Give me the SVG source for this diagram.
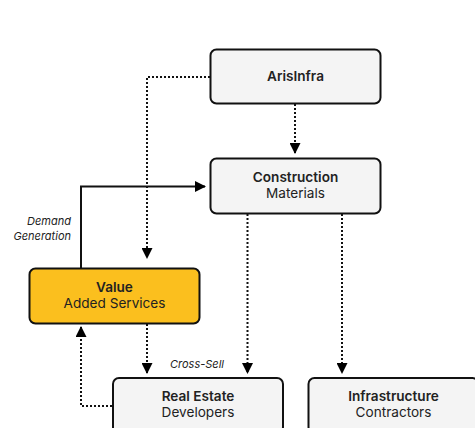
<svg xmlns="http://www.w3.org/2000/svg" width="475" height="428" viewBox="0 0 475 428">
<defs>
<marker id="ah" markerUnits="userSpaceOnUse" markerWidth="11" markerHeight="11" viewBox="0 0 11 11" refX="10" refY="5.5" orient="auto">
<path d="M0,0 L11,5.5 L0,11 z" fill="#000"/>
</marker>
<style>
.box{fill:#f4f4f4;stroke:#111;stroke-width:2}
.hl{fill:#FBBF1E;stroke:#111;stroke-width:2}
.t{font-family:Inter,"Liberation Sans",sans-serif;font-size:13.6px;fill:#222;text-anchor:middle}
.b{font-weight:600}
.lbl{font-family:Inter,"Liberation Sans",sans-serif;font-size:11px;font-style:italic;fill:#222}
.dot{fill:none;stroke:#111;stroke-width:2;stroke-dasharray:2 2}
.sol{fill:none;stroke:#111;stroke-width:2}
</style>
</defs>
<rect width="475" height="428" fill="#fff"/>
<g id="connectors">
<path class="dot" d="M210,77 H147 V258" marker-end="url(#ah)"/>
<path class="dot" d="M295,104 V153" marker-end="url(#ah)"/>
<path class="sol" d="M81,268 V186.5 H205" marker-end="url(#ah)"/>
<path class="dot" d="M247.5,214 V373" marker-end="url(#ah)"/>
<path class="dot" d="M342,214 V373" marker-end="url(#ah)"/>
<path class="dot" d="M147,324 V373" marker-end="url(#ah)"/>
<path class="dot" d="M112,406 H81 V327" marker-end="url(#ah)"/>
<text class="lbl" x="71" y="225" text-anchor="end">Demand</text>
<text class="lbl" x="71" y="239.5" text-anchor="end">Generation</text>
<text class="lbl" x="197" y="368" text-anchor="middle">Cross-Sell</text>
</g>
<g id="arisinfra">
<rect class="box" x="210.5" y="49.5" width="170" height="54" rx="6"/>
<text class="t b" x="295.5" y="81">ArisInfra</text>
</g>
<g id="construction">
<rect class="box" x="210.5" y="158.5" width="170" height="55" rx="6"/>
<text class="t b" x="295.5" y="182">Construction</text>
<text class="t" x="295.5" y="198">Materials</text>
</g>
<g id="value">
<rect class="hl" x="29.5" y="268.5" width="170" height="55" rx="6"/>
<text class="t b" x="114.5" y="292">Value</text>
<text class="t" x="114.5" y="308">Added Services</text>
</g>
<g id="realestate">
<rect class="box" x="113" y="378" width="170" height="55" rx="6"/>
<text class="t b" x="198" y="401">Real Estate</text>
<text class="t" x="198" y="417">Developers</text>
</g>
<g id="infrastructure">
<rect class="box" x="308.5" y="378" width="170" height="55" rx="6"/>
<text class="t b" x="393.5" y="401">Infrastructure</text>
<text class="t" x="393.5" y="417">Contractors</text>
</g>
</svg>
